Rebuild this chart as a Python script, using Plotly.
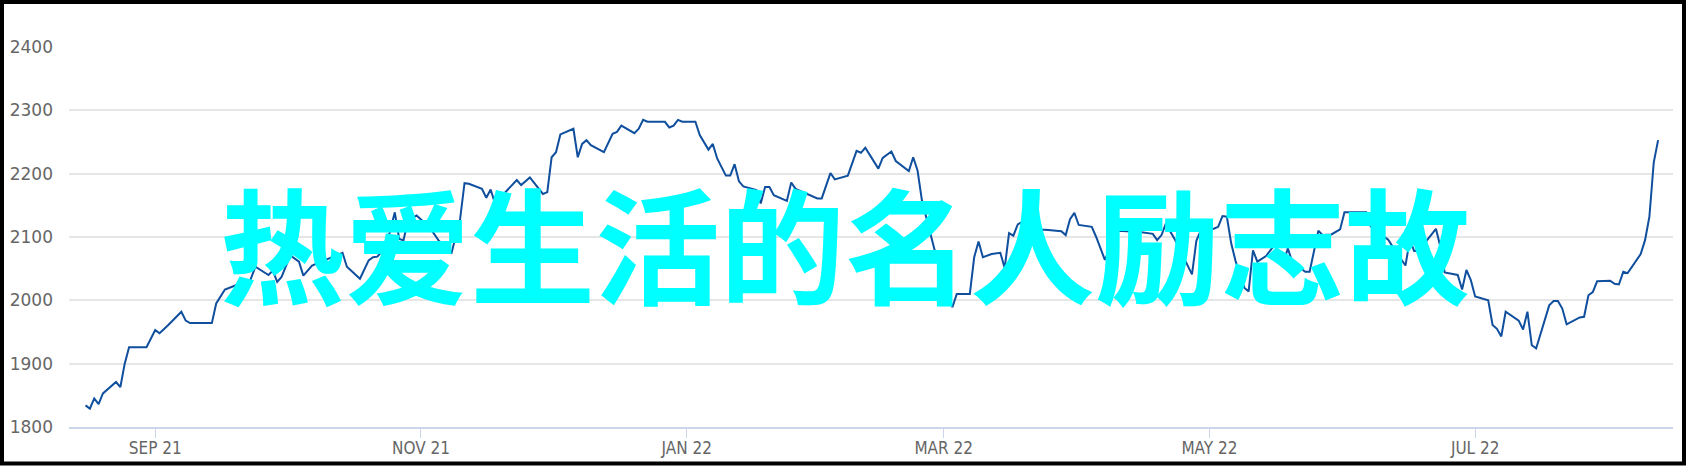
### 라이브러리 불러오기
import plotly.graph_objects as go

### 데이터
dates = [
    "2021-08-16", "2021-08-17", "2021-08-18", "2021-08-19", "2021-08-20", "2021-08-23", "2021-08-24", "2021-08-25", "2021-08-26", "2021-08-30",
    "2021-09-01", "2021-09-02", "2021-09-04", "2021-09-07", "2021-09-08", "2021-09-09", "2021-09-14", "2021-09-15", "2021-09-17", "2021-09-19",
    "2021-09-20", "2021-09-22", "2021-09-24", "2021-09-27", "2021-09-28", "2021-09-29", "2021-09-30", "2021-10-02", "2021-10-04", "2021-10-05",
    "2021-10-07", "2021-10-14", "2021-10-15", "2021-10-18", "2021-10-20", "2021-10-21", "2021-10-22", "2021-10-24", "2021-10-26", "2021-10-27",
    "2021-10-28", "2021-10-29", "2021-10-31", "2021-11-03", "2021-11-05", "2021-11-08", "2021-11-09", "2021-11-10", "2021-11-11", "2021-11-12",
    "2021-11-15", "2021-11-16", "2021-11-17", "2021-11-18", "2021-11-20", "2021-11-23", "2021-11-24", "2021-11-26", "2021-11-29", "2021-11-30",
    "2021-12-01", "2021-12-02", "2021-12-03", "2021-12-06", "2021-12-07", "2021-12-08", "2021-12-09", "2021-12-10", "2021-12-13", "2021-12-15",
    "2021-12-16", "2021-12-17", "2021-12-20", "2021-12-21", "2021-12-22", "2021-12-23", "2021-12-27", "2021-12-28", "2021-12-29", "2021-12-30",
    "2021-12-31", "2022-01-03", "2022-01-04", "2022-01-06", "2022-01-07", "2022-01-08", "2022-01-10", "2022-01-11", "2022-01-12", "2022-01-13",
    "2022-01-14", "2022-01-17", "2022-01-18", "2022-01-19", "2022-01-20", "2022-01-21", "2022-01-24", "2022-01-25", "2022-01-26", "2022-01-31",
    "2022-02-01", "2022-02-03", "2022-02-04", "2022-02-07", "2022-02-09", "2022-02-10", "2022-02-11", "2022-02-14", "2022-02-15", "2022-02-17",
    "2022-02-18", "2022-02-21", "2022-02-22", "2022-02-23", "2022-02-24", "2022-02-26", "2022-02-27", "2022-03-01", "2022-03-03", "2022-03-04",
    "2022-03-07", "2022-03-08", "2022-03-09", "2022-03-10", "2022-03-12", "2022-03-14", "2022-03-15", "2022-03-16", "2022-03-17", "2022-03-18",
    "2022-03-19", "2022-03-21", "2022-03-23", "2022-03-25", "2022-03-28", "2022-03-29", "2022-03-30", "2022-03-31", "2022-04-01", "2022-04-04",
    "2022-04-05", "2022-04-07", "2022-04-08", "2022-04-10", "2022-04-12", "2022-04-15", "2022-04-18", "2022-04-19", "2022-04-20", "2022-04-21",
    "2022-04-23", "2022-04-25", "2022-04-27", "2022-04-28", "2022-04-29", "2022-05-02", "2022-05-03", "2022-05-04", "2022-05-05", "2022-05-06",
    "2022-05-07", "2022-05-09", "2022-05-10", "2022-05-11", "2022-05-12", "2022-05-14", "2022-05-16", "2022-05-18", "2022-05-19", "2022-05-20",
    "2022-05-23", "2022-05-24", "2022-05-25", "2022-05-26", "2022-05-27", "2022-05-29", "2022-05-31", "2022-06-01", "2022-06-06", "2022-06-07",
    "2022-06-09", "2022-06-11", "2022-06-13", "2022-06-15", "2022-06-16", "2022-06-17", "2022-06-18", "2022-06-22", "2022-06-23", "2022-06-24",
    "2022-06-27", "2022-06-28", "2022-06-29", "2022-06-30", "2022-07-01", "2022-07-04", "2022-07-05", "2022-07-06", "2022-07-07", "2022-07-08",
    "2022-07-11", "2022-07-12", "2022-07-13", "2022-07-14", "2022-07-15", "2022-07-18", "2022-07-19", "2022-07-20", "2022-07-21", "2022-07-22",
    "2022-07-25", "2022-07-26", "2022-07-27", "2022-07-28", "2022-07-29", "2022-08-01", "2022-08-02", "2022-08-03", "2022-08-04", "2022-08-05",
    "2022-08-08", "2022-08-09", "2022-08-10", "2022-08-11", "2022-08-12",
]

values = [
    1834, 1829, 1845, 1836, 1853, 1871, 1863, 1900, 1926, 1926,
    1953, 1948, 1961, 1982, 1968, 1964, 1964, 1995, 2017, 2022,
    2025, 2017, 2053, 2040, 2047, 2029, 2037, 2071, 2061, 2039,
    2055, 2075, 2053, 2034, 2063, 2068, 2069, 2085, 2139, 2097,
    2095, 2126, 2134, 2115, 2095, 2074, 2100, 2129, 2185, 2184,
    2176, 2162, 2175, 2153, 2168, 2190, 2182, 2194, 2168, 2171,
    2226, 2234, 2262, 2271, 2226, 2247, 2253, 2245, 2234, 2263,
    2266, 2276, 2264, 2271, 2285, 2282, 2282, 2273, 2276, 2285,
    2282, 2282, 2261, 2238, 2247, 2224, 2197, 2197, 2215, 2188,
    2180, 2174, 2153, 2179, 2179, 2166, 2157, 2186, 2176, 2161,
    2161, 2201, 2191, 2197, 2236, 2233, 2241, 2208, 2225, 2235,
    2220, 2204, 2226, 2205, 2158, 2105, 2077, 2030, 1989, 2010,
    2010, 2068, 2093, 2068, 2073, 2075, 2051, 2106, 2102, 2120,
    2124, 2118, 2112, 2111, 2109, 2103, 2128, 2138, 2119, 2116,
    2100, 2064, 2080, 2110, 2109, 2108, 2105, 2095, 2103, 2121,
    2097, 2070, 2041, 2094, 2110, 2113, 2116, 2133, 2132, 2090,
    2062, 2020, 2014, 2079, 2061, 2070, 2088, 2060, 2082, 2061,
    2045, 2045, 2080, 2110, 2103, 2104, 2112, 2139, 2139, 2117,
    2105, 2096, 2075, 2055, 2095, 2078, 2078, 2113, 2085, 2044,
    2040, 2017, 2048, 2032, 2006, 2000, 1961, 1955, 1943, 1982,
    1968, 1954, 1982, 1929, 1924, 1992, 1999, 1999, 1987, 1962,
    1973, 1974, 2008, 2013, 2030, 2031, 2026, 2025, 2045, 2043,
    2073, 2095, 2132, 2218, 2253,
]

### x축 눈금
tick_dates = ["2021-09-01", "2021-11-01", "2022-01-01", "2022-03-01", "2022-05-01", "2022-07-01"]
tick_labels = ["SEP 21", "NOV 21", "JAN 22", "MAR 22", "MAY 22", "JUL 22"]

### 겹쳐진 글자
overlay_text = "热爱生活的名人励志故"

### 그래프 그리기
trace = go.Scatter(
    x=dates,
    y=values,
    mode="lines",
    line=dict(color="#0f4f9e", width=2),
    showlegend=False,
)

layout = go.Layout(
    width=1686,
    height=466,
    margin=dict(l=69, r=13, t=47, b=39),
    paper_bgcolor="white",
    plot_bgcolor="white",
    font=dict(family="Roboto, sans-serif", color="#666666"),
    xaxis=dict(
        type="date",
        automargin=False,
        range=["2021-08-12 05:00", "2022-08-15 10:00"],
        tickvals=tick_dates,
        ticktext=tick_labels,
        showgrid=False,
        showline=True,
        linecolor="#ccd6eb",
        linewidth=2,
        ticks="outside",
        ticklen=9,
        tickcolor="#ccd6eb",
        ticklabelstandoff=-4,
        tickfont=dict(family="DejaVu Sans Condensed, Roboto, sans-serif", size=17, color="#666666"),
        zeroline=False,
    ),
    yaxis=dict(
        automargin=False,
        range=[1799.9, 2400.1],
        dtick=100,
        showgrid=True,
        gridcolor="#e6e6e6",
        gridwidth=1.5,
        zeroline=False,
        showline=False,
        ticks="",
        ticklabelstandoff=15,
        tickfont=dict(family="DejaVu Sans, sans-serif", size=17, color="#666666"),
    ),
    annotations=[
        dict(
            text=overlay_text,
            xref="paper", yref="paper",
            x=0.484, y=0.49,
            xanchor="center", yanchor="middle",
            showarrow=False,
            font=dict(family="Noto Sans CJK SC", size=125, color="#00ffff", weight="bold"),
        )
    ],
    shapes=[
        dict(
            type="rect", xref="paper", yref="paper",
            x0=-0.04177, x1=1.00686, y0=-0.09605, y1=1.11842,
            line=dict(color="black", width=4),
            fillcolor="rgba(0,0,0,0)",
        )
    ],
)

fig = go.Figure(data=[trace], layout=layout)
### 페이지 기본 여백 없애기, 툴바 숨기기
fig.write_html(
    "out.html",
    config={"displayModeBar": False},
    post_script="document.body.style.margin='0';",
)
